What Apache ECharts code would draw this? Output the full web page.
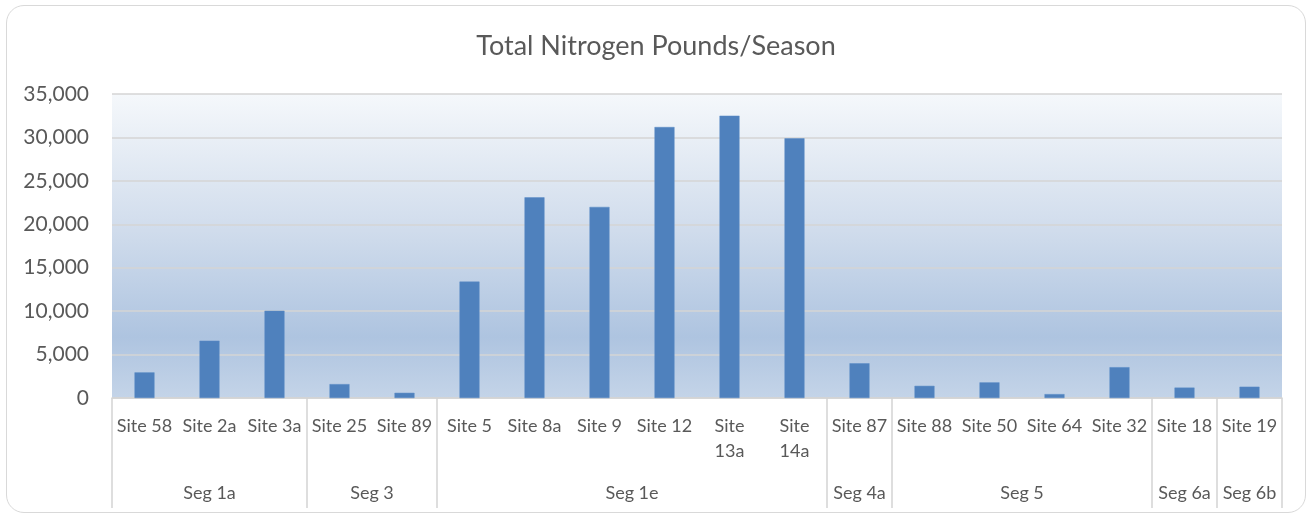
<!DOCTYPE html>
<html>
<head>
<meta charset="utf-8">
<script src="https://cdn.jsdelivr.net/npm/echarts@6/dist/echarts.min.js"></script>
<style>
  html, body { margin: 0; padding: 0; background: #fff; }
  #frame {
    position: absolute; left: 6px; top: 5px; width: 1298px; height: 506px;
    border: 1px solid #d9d9d9; border-radius: 18px; overflow: hidden;
  }
  #chart { position: absolute; left: -7px; top: -6px; width: 1312px; height: 516px; }
</style>
</head>
<body>
<div id="frame"><div id="chart"></div></div>
<script>
  // sites along the x axis and their seasonal loads
  const sites = ['Site 58', 'Site 2a', 'Site 3a', 'Site 25', 'Site 89', 'Site 5', 'Site 8a', 'Site 9',
    'Site 12', 'Site 13a', 'Site 14a', 'Site 87', 'Site 88', 'Site 50', 'Site 64', 'Site 32',
    'Site 18', 'Site 19'];
  const nitrogen = [2950, 6600, 10050, 1600, 600, 13400, 23100, 22000, 31200, 32500, 29900,
    4000, 1400, 1800, 450, 3550, 1200, 1300];
  // segment groups: name and number of sites in each
  const segments = ['Seg 1a', 'Seg 3', 'Seg 1e', 'Seg 4a', 'Seg 5', 'Seg 6a', 'Seg 6b'];
  const segmentSizes = [3, 2, 6, 1, 4, 1, 1];
  const yTicks = [0, 5000, 10000, 15000, 20000, 25000, 30000, 35000];

  const font = 'Lato, "Open Sans", sans-serif';
  const textColor = '#595959';

  // boundaries and centres of the segment groups, in category units
  let bounds = [0];
  segmentSizes.forEach(n => bounds.push(bounds[bounds.length - 1] + n));
  let centres = segmentSizes.map((n, i) => bounds[i] + n / 2);

  const chart = echarts.init(document.getElementById('chart'));
  chart.setOption({
    backgroundColor: 'transparent',
    title: {
      text: 'Total Nitrogen Pounds/Season',
      left: 'center',
      top: 28,
      textStyle: { fontFamily: font, fontSize: 27, fontWeight: 'normal', color: textColor }
    },
    grid: {
      left: 112, right: 30, top: 94, bottom: 118,
      show: true,
      borderWidth: 0,
      backgroundColor: new echarts.graphic.LinearGradient(0, 0, 0, 1, [
        { offset: 0, color: '#f5f8fb' },
        { offset: 0.45, color: '#d0dcec' },
        { offset: 0.8, color: '#aec4e0' },
        { offset: 1, color: '#c4d4e8' }
      ])
    },
    xAxis: [
      {
        type: 'category',
        data: sites,
        axisLine: { lineStyle: { color: '#d4d4d4', width: 1.5 } },
        axisTick: { show: false },
        axisLabel: {
          interval: 0,
          margin: 16,
          color: textColor,
          fontFamily: font,
          fontSize: 18,
          lineHeight: 25,
          verticalAlign: 'top',
          formatter: v => v.length > 7 ? v.replace(' ', '\n') : v
        }
      },
      {
        type: 'value',
        min: 0,
        max: sites.length,
        position: 'bottom',
        axisLine: { show: false },
        splitLine: { show: false },
        axisTick: {
          show: true,
          customValues: bounds,
          length: 110,
          lineStyle: { color: '#d4d4d4', width: 1.5 }
        },
        axisLabel: {
          customValues: centres,
          margin: 86,
          color: textColor,
          fontFamily: font,
          fontSize: 18,
          verticalAlign: 'top',
          formatter: v => segments[centres.indexOf(v)] || ''
        }
      }
    ],
    yAxis: {
      type: 'value',
      min: yTicks[0],
      max: yTicks[yTicks.length - 1],
      interval: 5000,
      axisLine: { show: false },
      axisTick: { show: false },
      splitLine: { lineStyle: { color: '#d4d4d4', width: 1.5 } },
      axisLabel: {
        margin: 23,
        color: textColor,
        fontFamily: font,
        fontSize: 21,
        formatter: v => v.toLocaleString('en-US')
      }
    },
    series: [
      {
        type: 'bar',
        data: nitrogen,
        barWidth: 20,
        itemStyle: { color: '#4f81bd', borderColor: '#5b8cc6', borderWidth: 0.5 }
      }
    ]
  });
</script>
</body>
</html>
